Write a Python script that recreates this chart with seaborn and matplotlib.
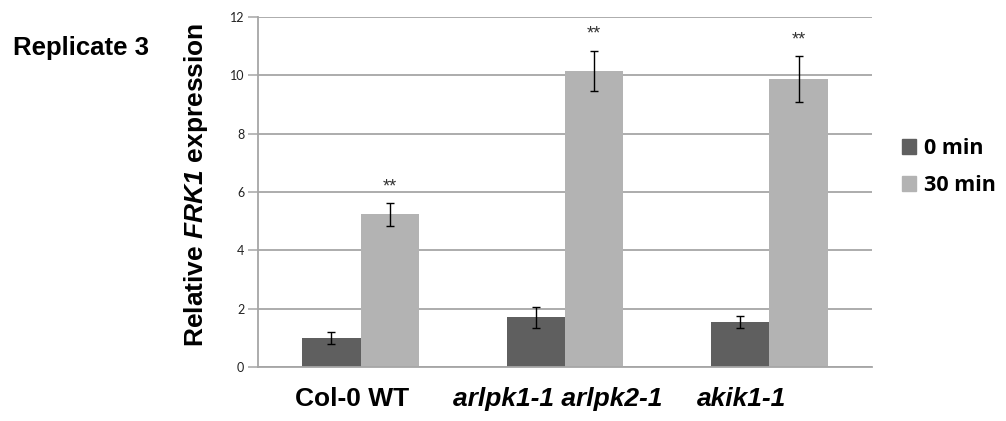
import matplotlib
matplotlib.use("Agg")
import matplotlib.pyplot as plt
import matplotlib.transforms as mtransforms
import seaborn as sns
import pandas as pd

# Data
genotypes = ["Col-0 WT", "arlpk1-1 arlpk2-1", "akik1-1"]
timepoints = ["0 min", "30 min"]
expr_0min = [1.00, 1.71, 1.55]
expr_30min = [5.23, 10.15, 9.87]
err_0min = [0.21, 0.37, 0.19]
err_30min = [0.38, 0.69, 0.78]
significance = ["**", "**", "**"]
yticks = [0, 2, 4, 6, 8, 10, 12]

df = pd.DataFrame({
    "genotype": genotypes * 2,
    "time": [timepoints[0]] * 3 + [timepoints[1]] * 3,
    "value": expr_0min + expr_30min,
    "err": err_0min + err_30min,
})

sns.set_theme(style="white")
plt.rcParams["text.color"] = "black"
plt.rcParams["axes.labelcolor"] = "black"
plt.rcParams["xtick.color"] = "black"
plt.rcParams["ytick.color"] = "black"
plt.rcParams["mathtext.fontset"] = "custom"
plt.rcParams["mathtext.it"] = "Liberation Sans:italic:bold"
plt.rcParams["mathtext.rm"] = "Liberation Sans:italic:bold"
plt.rcParams["mathtext.bf"] = "Liberation Sans:italic:bold"

fig = plt.figure(figsize=(10.06, 4.21), dpi=100)
ax = fig.add_axes([0.2568, 0.1276, 0.6097, 0.8327])

palette = {"0 min": "#5f5f5f", "30 min": "#b3b3b3"}
sns.barplot(data=df, x="genotype", y="value", hue="time", order=genotypes,
            hue_order=timepoints, palette=palette, errorbar=None,
            width=0.57, gap=0, saturation=1, linewidth=0, ax=ax, legend=False)

# Error bars and significance marks, placed on the drawn bars
for cont, t in zip(ax.containers, timepoints):
    sub = df[df["time"] == t].set_index("genotype").loc[genotypes]
    xs = [p.get_x() + p.get_width() / 2 for p in cont.patches]
    ax.errorbar(xs, sub["value"], yerr=sub["err"], fmt="none",
                ecolor="black", elinewidth=1.0, capsize=2.8, capthick=1.0,
                zorder=5)
    if t == "30 min":
        for x, v, e, s in zip(xs, sub["value"], sub["err"], significance):
            ax.annotate(s, (x, v + e), xytext=(0, 8.5), textcoords="offset points",
                        ha="center", va="baseline", fontsize=13,
                        family="Liberation Sans", color="#333333")

ax.set_xlim(-0.5, 2.5)
ax.set_ylim(0, 12)
ax.set_yticks(yticks)
ax.set_yticklabels([str(v) for v in yticks], fontsize=9, family="Lato",
                   color="#222222")
ax.yaxis.grid(True, color="#a6a6a6", linewidth=1.3)
ax.set_axisbelow(True)
ax.tick_params(axis="y", length=7.2, width=1.1, color="#a6a6a6", pad=3,
               left=True)
ax.tick_params(axis="x", length=0, pad=14)

for side in ["top", "right"]:
    ax.spines[side].set_visible(False)
for side in ["left", "bottom"]:
    ax.spines[side].set_color("#a6a6a6")
    ax.spines[side].set_linewidth(1.3)

ax.set_xlabel("")
ax.set_xticks(range(len(genotypes)))
ax.set_xticklabels(genotypes, fontsize=19, fontweight="bold",
                   family="Liberation Sans", color="black")
label_shift_px = [-9, -7, -28]
for lbl, shift in zip(ax.get_xticklabels(), label_shift_px):
    if lbl.get_text() != "Col-0 WT":
        lbl.set_fontstyle("italic")
    lbl.set_transform(lbl.get_transform() +
                      mtransforms.ScaledTranslation(shift / 100, 0, fig.dpi_scale_trans))

ax.set_ylabel(r"Relative $\mathit{FRK1}$ expression", fontsize=19,
              fontweight="bold", family="Liberation Sans", color="black")
ax.yaxis.set_label_coords(-0.079, 0.52)

fig.text(0.013, 0.869, "Replicate 3", fontsize=18.5, fontweight="bold",
         family="Liberation Sans", ha="left", va="baseline", color="black")

handles = [plt.Rectangle((0, 0), 1, 1, color=palette[t]) for t in timepoints]
leg = fig.legend(handles, timepoints, loc="center left",
                 bbox_to_anchor=(0.8966, 0.603), frameon=False,
                 prop={"family": "Open Sans", "weight": "bold", "size": 15.5},
                 handlelength=0.66, handleheight=0.66, handletextpad=0.37,
                 labelspacing=0.75, borderaxespad=0, borderpad=0)
for txt in leg.get_texts():
    txt.set_color("black")

fig.savefig("out.png", dpi=100)
